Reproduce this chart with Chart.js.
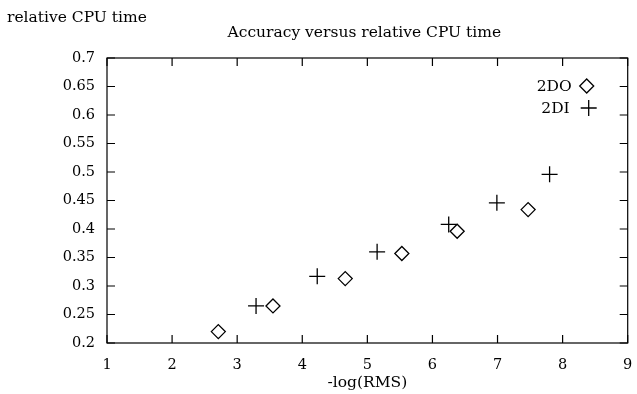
<!DOCTYPE html>
<html>
<head>
<meta charset="utf-8">
<script src="https://cdn.jsdelivr.net/npm/chart.js@4/dist/chart.umd.min.js"></script>
<style>
  body { margin: 0; background: #fff; }
</style>
</head>
<body>
<canvas id="grafico" width="637" height="394"></canvas>
<script>
// valores
const x2DO = [2.71, 3.55, 4.66, 5.53, 6.38, 7.47];
const y2DO = [0.220, 0.265, 0.313, 0.357, 0.396, 0.434];
const x2DI = [3.29, 4.23, 5.15, 6.25, 6.99, 7.80];
const y2DI = [0.265, 0.317, 0.360, 0.408, 0.446, 0.496];
const nomes = ["2DO", "2DI"];

const fonte = "'DejaVu Serif', serif";

function pontos(xs, ys) {
  return xs.map((x, i) => ({ x: x, y: ys[i] }));
}

// moldura, ticks internos, titulos e legenda
const extras = {
  id: "extras",
  afterDraw(chart) {
    const ctx = chart.ctx;
    const a = chart.chartArea;
    const sx = chart.scales.x;
    const sy = chart.scales.y;
    ctx.save();
    ctx.strokeStyle = "#000";
    ctx.lineWidth = 1.2;
    ctx.strokeRect(a.left, a.top, a.right - a.left, a.bottom - a.top);

    ctx.beginPath();
    sx.ticks.forEach(t => {
      const px = sx.getPixelForValue(t.value);
      ctx.moveTo(px, a.bottom); ctx.lineTo(px, a.bottom - 8);
      ctx.moveTo(px, a.top); ctx.lineTo(px, a.top + 8);
    });
    sy.ticks.forEach(t => {
      const py = sy.getPixelForValue(t.value);
      ctx.moveTo(a.left, py); ctx.lineTo(a.left + 8, py);
      ctx.moveTo(a.right, py); ctx.lineTo(a.right - 8, py);
    });
    ctx.stroke();

    ctx.fillStyle = "#000";
    ctx.font = "15.5px " + fonte;
    ctx.textBaseline = "alphabetic";
    ctx.textAlign = "left";
    ctx.fillText("relative CPU time", 7, 22);
    ctx.textAlign = "center";
    ctx.fillText("Accuracy versus relative CPU time", (a.left + a.right) / 2 - 3, 37);
    ctx.fillText("-log(RMS)", (a.left + a.right) / 2, 387);

    // legenda
    ctx.textAlign = "right";
    ctx.textBaseline = "middle";
    ctx.fillText(nomes[0], a.right - 56, 87);
    ctx.fillText(nomes[1], a.right - 58, 109);
    ctx.lineWidth = 1.3;
    let cx = a.right - 41, cy = 86;
    ctx.beginPath();
    ctx.moveTo(cx, cy - 7); ctx.lineTo(cx + 7, cy); ctx.lineTo(cx, cy + 7); ctx.lineTo(cx - 7, cy); ctx.closePath();
    ctx.stroke();
    cx = a.right - 39; cy = 108;
    ctx.beginPath();
    ctx.moveTo(cx - 8, cy); ctx.lineTo(cx + 8, cy);
    ctx.moveTo(cx, cy - 8); ctx.lineTo(cx, cy + 8);
    ctx.stroke();
    ctx.restore();
  }
};

new Chart(document.getElementById("grafico"), {
  type: "scatter",
  data: {
    datasets: [
      {
        label: nomes[0],
        data: pontos(x2DO, y2DO),
        pointStyle: "rectRot",
        pointRadius: 7,
        borderWidth: 1.3,
        borderColor: "#000",
        backgroundColor: "rgba(255,255,255,0)",
      },
      {
        label: nomes[1],
        data: pontos(x2DI, y2DI),
        pointStyle: "cross",
        pointRadius: 8,
        borderWidth: 1.3,
        borderColor: "#000",
        backgroundColor: "#000",
      },
    ],
  },
  options: {
    responsive: false,
    animation: false,
    layout: { padding: { left: 0, top: 58, right: 6, bottom: 0 } },
    plugins: {
      legend: { display: false },
      title: { display: false },
      tooltip: { enabled: false },
    },
    scales: {
      x: {
        type: "linear",
        min: 1,
        max: 9,
        afterFit: s => { s.height = 51; s.paddingLeft = 0; s.paddingRight = 0; },
        ticks: {
          stepSize: 1,
          color: "#000",
          padding: 14,
          font: { family: fonte, size: 14.5 },
        },
        grid: { display: false, drawTicks: false },
        border: { display: false },
      },
      y: {
        min: 0.2,
        max: 0.7,
        afterFit: s => { s.width = 107; s.paddingTop = 0; s.paddingBottom = 0; },
        ticks: {
          stepSize: 0.05,
          color: "#000",
          padding: 12,
          font: { family: fonte, size: 14.5 },
          callback: v => String(Math.round(v * 100) / 100),
        },
        grid: { display: false, drawTicks: false },
        border: { display: false },
      },
    },
  },
  plugins: [extras],
});
</script>
</body>
</html>
